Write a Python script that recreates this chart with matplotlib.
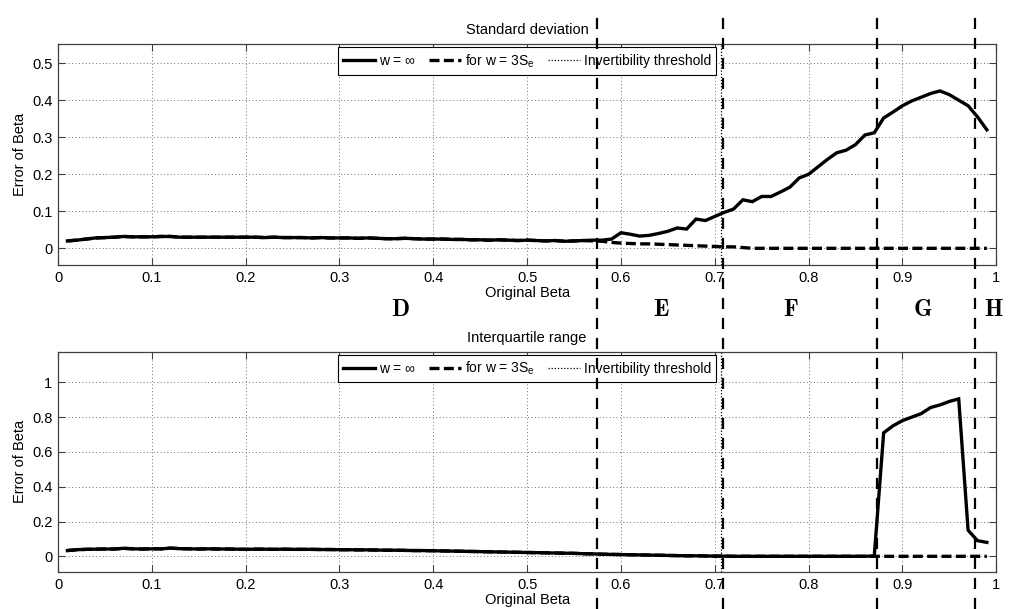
import numpy as np
import matplotlib
matplotlib.use("Agg")
import matplotlib.pyplot as plt
from matplotlib.lines import Line2D
import matplotlib.transforms as mtransforms

plt.rcParams['font.family'] = ['Liberation Sans', 'DejaVu Sans']
plt.rcParams['mathtext.fontset'] = 'custom'
plt.rcParams['mathtext.rm'] = 'Liberation Sans'
plt.rcParams['mathtext.it'] = 'Liberation Sans:italic'
plt.rcParams['mathtext.bf'] = 'Liberation Sans:bold'

# ---------------- data ----------------
beta = np.round(np.arange(1, 100) / 100.0, 2)   # 0.01 ... 0.99

sd_inf = [
    0.020, 0.022, 0.025, 0.028, 0.029, 0.030, 0.032, 0.031, 0.031, 0.031,
    0.032, 0.032, 0.030, 0.030, 0.030, 0.030, 0.030, 0.030, 0.030, 0.030,
    0.030, 0.029, 0.030, 0.029, 0.029, 0.029, 0.028, 0.029, 0.028, 0.028,
    0.028, 0.027, 0.028, 0.027, 0.026, 0.026, 0.027, 0.026, 0.025, 0.025,
    0.025, 0.024, 0.024, 0.023, 0.023, 0.022, 0.023, 0.022, 0.021, 0.022,
    0.021, 0.020, 0.021, 0.019, 0.020, 0.021, 0.022, 0.022, 0.025, 0.042,
    0.038, 0.033, 0.035, 0.040, 0.046, 0.055, 0.052, 0.079, 0.075, 0.086,
    0.097, 0.106, 0.131, 0.126, 0.140, 0.140, 0.152, 0.165, 0.190, 0.200,
    0.220, 0.240, 0.258, 0.265, 0.280, 0.306, 0.312, 0.352, 0.368, 0.385,
    0.398, 0.408, 0.418, 0.425, 0.415, 0.400, 0.385, 0.355, 0.320,
]
sd_3se = [
    0.020, 0.022, 0.025, 0.028, 0.029, 0.030, 0.032, 0.031, 0.031, 0.031,
    0.032, 0.032, 0.030, 0.030, 0.030, 0.030, 0.030, 0.030, 0.030, 0.030,
    0.030, 0.029, 0.030, 0.029, 0.029, 0.029, 0.028, 0.029, 0.028, 0.028,
    0.028, 0.027, 0.028, 0.027, 0.026, 0.026, 0.027, 0.026, 0.025, 0.025,
    0.025, 0.024, 0.024, 0.023, 0.023, 0.022, 0.023, 0.022, 0.021, 0.022,
    0.021, 0.020, 0.021, 0.019, 0.020, 0.021, 0.020, 0.019, 0.016, 0.014,
    0.013, 0.012, 0.012, 0.011, 0.010, 0.009, 0.008, 0.007, 0.006, 0.005,
    0.004, 0.004, 0.002, 0.000, 0.000, 0.000, 0.000, 0.000, 0.000, 0.000,
    0.000, 0.000, 0.000, 0.000, 0.000, 0.000, 0.000, 0.000, 0.000, 0.000,
    0.000, 0.000, 0.000, 0.000, 0.000, 0.000, 0.000, 0.000, 0.000,
]
iqr_inf = [
    0.033, 0.038, 0.040, 0.041, 0.042, 0.042, 0.046, 0.043, 0.042, 0.043,
    0.043, 0.047, 0.044, 0.043, 0.042, 0.043, 0.042, 0.042, 0.041, 0.040,
    0.041, 0.041, 0.040, 0.041, 0.040, 0.040, 0.040, 0.039, 0.039, 0.038,
    0.038, 0.037, 0.037, 0.036, 0.035, 0.035, 0.034, 0.033, 0.033, 0.032,
    0.031, 0.030, 0.029, 0.028, 0.027, 0.026, 0.025, 0.024, 0.023, 0.022,
    0.021, 0.020, 0.019, 0.018, 0.017, 0.015, 0.014, 0.012, 0.011, 0.010,
    0.009, 0.008, 0.007, 0.006, 0.005, 0.004, 0.003, 0.003, 0.002, 0.001,
    0.001, 0.000, 0.000, 0.000, 0.000, 0.000, 0.000, 0.000, 0.000, 0.000,
    0.000, 0.000, 0.000, 0.000, 0.000, 0.000, 0.002, 0.710, 0.750, 0.780,
    0.800, 0.820, 0.855, 0.870, 0.890, 0.905, 0.150, 0.090, 0.080,
]
iqr_3se = [
    0.033, 0.038, 0.040, 0.041, 0.042, 0.042, 0.046, 0.043, 0.042, 0.043,
    0.043, 0.047, 0.044, 0.043, 0.042, 0.043, 0.042, 0.042, 0.041, 0.040,
    0.041, 0.041, 0.040, 0.041, 0.040, 0.040, 0.040, 0.039, 0.039, 0.038,
    0.038, 0.037, 0.037, 0.036, 0.035, 0.035, 0.034, 0.033, 0.033, 0.032,
    0.031, 0.030, 0.029, 0.028, 0.027, 0.026, 0.025, 0.024, 0.023, 0.022,
    0.021, 0.020, 0.019, 0.018, 0.017, 0.015, 0.014, 0.012, 0.011, 0.010,
    0.009, 0.008, 0.007, 0.006, 0.005, 0.004, 0.003, 0.003, 0.002, 0.001,
    0.001, 0.000, 0.000, 0.000, 0.000, 0.000, 0.000, 0.000, 0.000, 0.000,
    0.000, 0.000, 0.000, 0.000, 0.000, 0.000, 0.000, 0.000, 0.000, 0.000,
    0.000, 0.000, 0.000, 0.000, 0.000, 0.000, 0.000, 0.000, 0.000,
]
invert_threshold = 0.7071
region_bounds = [0.574, 0.709, 0.873, 0.977]
region_letters = ['D', 'E', 'F', 'G', 'H']
region_letter_x = [0.365, 0.643, 0.781, 0.922, 0.997]
titles = ['Standard deviation', 'Interquartile range']
legend_labels = [r'w = $\infty$', r'for w = 3S$_{\mathrm{e}}$', 'Invertibility threshold']
xticks = [0, 0.1, 0.2, 0.3, 0.4, 0.5, 0.6, 0.7, 0.8, 0.9, 1]
xticklabels = ['0', '0.1', '0.2', '0.3', '0.4', '0.5', '0.6', '0.7', '0.8', '0.9', '1']
yticks_top = [0, 0.1, 0.2, 0.3, 0.4, 0.5]
yticks_bot = [0, 0.2, 0.4, 0.6, 0.8, 1]

# ---------------- figure ----------------
fig = plt.figure(figsize=(10.11, 6.09), dpi=100)
ax1 = fig.add_axes([0.0574, 0.5649, 0.928, 0.363])
ax2 = fig.add_axes([0.0574, 0.0608, 0.928, 0.3617])

spine_col = '#404040'
series = [(ax1, sd_inf, sd_3se, (-0.045, 0.552), yticks_top, titles[0]),
          (ax2, iqr_inf, iqr_3se, (-0.09, 1.176), yticks_bot, titles[1])]

for ax, y_inf, y_3se, ylim, yt, title in series:
    l1, = ax.plot(beta, y_inf, color='black', lw=2.4, solid_joinstyle='miter')
    l2, = ax.plot(beta, y_3se, color='black', lw=2.4, dashes=(3, 1.3))
    l3 = ax.axvline(invert_threshold, color='black', lw=0.9, ls=(0, (1, 1.5)))
    ax.set_xlim(0, 1)
    ax.set_ylim(*ylim)
    ax.set_xticks(xticks)
    ax.set_xticklabels(xticklabels)
    ax.set_yticks(yt)
    ax.set_yticklabels([('%g' % v) for v in yt])
    ax.grid(True, linestyle=(0, (1, 2.5)), color='#707070', linewidth=0.7)
    ax.tick_params(direction='in', top=True, right=True, length=5,
                   labelsize=10.5, color=spine_col, pad=4)
    for s in ax.spines.values():
        s.set_color(spine_col)
        s.set_linewidth(0.9)
    ax.set_xlabel('Original Beta', fontsize=10.5, labelpad=1)
    ax.set_ylabel('Error of Beta', fontsize=10.5, labelpad=4)
    ax.set_title(title, fontsize=10.5, pad=7)
    leg = ax.legend([l1, l2, l3], legend_labels,
                    loc='upper center', ncol=3, fontsize=10, frameon=True,
                    fancybox=False, edgecolor='black', framealpha=1,
                    handlelength=2.3, handletextpad=0.3, columnspacing=0.9,
                    borderaxespad=0.25, borderpad=0.35)
    leg.get_frame().set_linewidth(0.8)

# figure-wide dashed region boundaries
to_fig = ax1.transData + fig.transFigure.inverted()
for xb in region_bounds:
    xf = to_fig.transform((xb, 0))[0]
    fig.add_artist(Line2D([xf, xf], [0, 1 - 12 / 609], transform=fig.transFigure,
                          color='black', lw=1.6, dashes=(5, 4)))

# region letters
blend = mtransforms.blended_transform_factory(ax1.transData, fig.transFigure)
for lx, letter in zip(region_letter_x, region_letters):
    fig.text(lx, 1 - 310 / 609, r'$\mathbf{%s}$' % letter, transform=blend,
             ha='center', va='center', fontsize=17, math_fontfamily='cm')

fig.savefig('out.png', dpi=100)
